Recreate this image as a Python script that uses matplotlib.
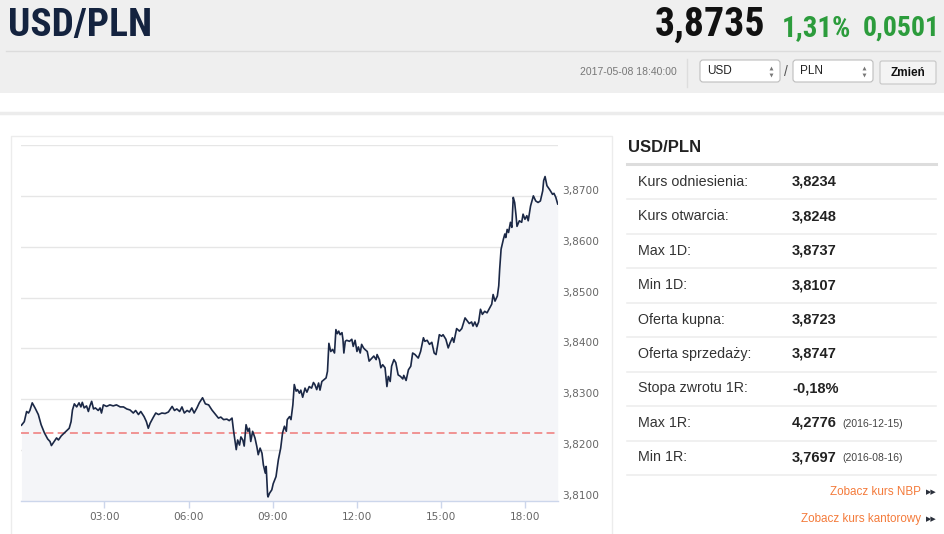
import matplotlib
matplotlib.use('Agg')
import matplotlib.pyplot as plt
import matplotlib.transforms as mtransforms
from matplotlib.patches import Rectangle, FancyBboxPatch
from matplotlib.ticker import FuncFormatter
import matplotlib.font_manager as fm

# ---- data --------------------------------------------------------------
pair = 'USD/PLN'
last_rate = '3,8735'
change_pct = '1,31%'
change_abs = '0,0501'
timestamp = '2017-05-08 18:40:00'
ref_rate = 3.8234

# minutes since midnight
minutes = [
    3, 9, 14, 18, 21, 26, 32, 39, 45, 52, 59, 64, 67, 73, 78, 82, 88, 96, 105, 109,
    112, 116, 121, 126, 130, 133, 137, 142, 146, 149, 153, 157, 161, 167, 171, 174, 178, 185, 192, 199,
    206, 214, 221, 228, 235, 242, 247, 253, 258, 265, 270, 274, 278, 285, 290,
    296, 303, 310, 317, 325, 330, 335, 341, 346, 351, 357, 362, 367, 372, 378, 383, 390, 396, 403, 410,
    417, 424, 429, 435, 442, 447, 453, 456, 460, 462, 465, 469, 472, 476, 479, 483, 487, 490, 493, 497,
    502, 506, 509, 513, 517, 520, 524, 526, 529, 530, 533, 538, 541, 547, 552, 557, 561, 565, 569, 571, 576,
    579, 583, 586, 590, 593, 597, 600, 604, 609, 613, 618, 623, 627, 630, 634, 638, 641, 645, 650, 654,
    657, 660, 664, 668, 672, 675, 678, 681, 684, 688, 690, 692, 695, 698, 704, 709, 712, 716, 720, 723,
    727, 730, 734, 737, 742, 746, 752, 756, 761, 763, 768, 771, 775, 780, 784, 787, 791, 794, 799, 803,
    808, 813, 818, 820, 825, 830, 835,
    839, 844, 851, 856, 862, 865, 870, 875, 880, 885, 889, 892, 896, 901, 904, 910, 915, 919, 924, 927,
    933, 939, 944, 951, 956, 960, 965, 968, 972, 976, 980, 984, 988, 993, 998, 1004, 1008, 1011, 1015, 1020,
    1023, 1025, 1028, 1033, 1036, 1038, 1041, 1044, 1048, 1051, 1054, 1057, 1060, 1062, 1067, 1072, 1075, 1079, 1083, 1086,
    1091, 1097, 1102, 1107, 1112, 1117, 1119, 1122, 1126, 1132, 1138, 1141, 1145, 1149,
]
rates = [
    3.8249, 3.8256, 3.8276, 3.8273, 3.8278, 3.8293, 3.8283, 3.8270, 3.8250, 3.8234,
    3.8222, 3.8217, 3.8209, 3.8217, 3.8224, 3.8220, 3.8228, 3.8235, 3.8243, 3.8256,
    3.8279, 3.8291, 3.8285, 3.8293, 3.8285, 3.8294, 3.8283, 3.8287, 3.8276, 3.8286,
    3.8296, 3.8281, 3.8283, 3.8278, 3.8283, 3.8273, 3.8289, 3.8286, 3.8289, 3.8287,
    3.8289, 3.8285, 3.8285, 3.8281, 3.8279, 3.8273, 3.8278, 3.8270, 3.8276, 3.8266,
    3.8256, 3.8243, 3.8253, 3.8265, 3.8273,
    3.8270, 3.8273, 3.8272, 3.8275, 3.8286, 3.8278, 3.8281, 3.8276, 3.8285, 3.8273,
    3.8278, 3.8275, 3.8283, 3.8273, 3.8283, 3.8293, 3.8303, 3.8291, 3.8289, 3.8279,
    3.8271, 3.8263, 3.8265, 3.8260, 3.8261, 3.8258, 3.8263, 3.8240, 3.8214, 3.8201,
    3.8220, 3.8210, 3.8226, 3.8220, 3.8208, 3.8250, 3.8237, 3.8243, 3.8217, 3.8237,
    3.8224, 3.8207, 3.8191, 3.8204, 3.8194, 3.8171, 3.8155, 3.8168, 3.8112, 3.8108,
    3.8115, 3.8122, 3.8134, 3.8148, 3.8181, 3.8204, 3.8234, 3.8247, 3.8237, 3.8260, 3.8266,
    3.8260, 3.8289, 3.8329, 3.8316, 3.8319, 3.8312, 3.8318, 3.8304, 3.8322, 3.8314,
    3.8325, 3.8322, 3.8333, 3.8329, 3.8319, 3.8332, 3.8318, 3.8335, 3.8339, 3.8342,
    3.8355, 3.8410, 3.8394, 3.8398, 3.8391, 3.8437, 3.8429, 3.8434, 3.8427, 3.8431,
    3.8418, 3.8391, 3.8414, 3.8416, 3.8414, 3.8418, 3.8404, 3.8416, 3.8394, 3.8403,
    3.8391, 3.8408, 3.8401, 3.8398, 3.8394, 3.8375, 3.8381, 3.8385, 3.8378, 3.8388,
    3.8378, 3.8362, 3.8368, 3.8362, 3.8325, 3.8345, 3.8335, 3.8365, 3.8378, 3.8372,
    3.8348, 3.8345, 3.8340, 3.8347, 3.8337, 3.8358, 3.8365,
    3.8391, 3.8388, 3.8381, 3.8394, 3.8421, 3.8414, 3.8416, 3.8408, 3.8412, 3.8391,
    3.8388, 3.8404, 3.8427, 3.8424, 3.8427, 3.8418, 3.8401, 3.8411, 3.8421, 3.8412,
    3.8439, 3.8434, 3.8439, 3.8460, 3.8454, 3.8449, 3.8452, 3.8444, 3.8452, 3.8443,
    3.8452, 3.8477, 3.8467, 3.8473, 3.8470, 3.8480, 3.8487, 3.8506, 3.8493, 3.8503,
    3.8523, 3.8556, 3.8595, 3.8615, 3.8625, 3.8618, 3.8634, 3.8628, 3.8648, 3.8638,
    3.8697, 3.8687, 3.8661, 3.8640, 3.8651, 3.8648, 3.8664, 3.8654, 3.8661, 3.8651,
    3.8680, 3.8700, 3.8690, 3.8687, 3.8690, 3.8710, 3.8730, 3.8738, 3.8720, 3.8712,
    3.8703, 3.8705, 3.8697, 3.8684,
]

y_ticks = [3.81, 3.82, 3.83, 3.84, 3.85, 3.86, 3.87, 3.88]
y_labelled = [3.81, 3.82, 3.83, 3.84, 3.85, 3.86, 3.87]
x_ticks = [180, 360, 540, 720, 900, 1080]

table_labels = ['Kurs odniesienia:', 'Kurs otwarcia:', 'Max 1D:', 'Min 1D:',
                'Oferta kupna:', 'Oferta sprzedaży:', 'Stopa zwrotu 1R:',
                'Max 1R:', 'Min 1R:']
table_values = ['3,8234', '3,8248', '3,8737', '3,8107', '3,8723', '3,8747',
                '-0,18%', '4,2776', '3,7697']
table_notes = ['', '', '', '', '', '', '', '(2016-12-15)', '(2016-08-16)']

links = ['Zobacz kurs NBP', 'Zobacz kurs kantorowy']

SANS = 'Liberation Sans'


def find_condensed_bold():
    # look for any installed condensed / narrow bold face for the headline
    prefs = ['opensanscondensed', 'robotocondensed', 'notosans-condensedbold',
             'notosanscondensed', 'liberationsansnarrow-bold', 'dejavusanscondensed-bold']
    files = [f.fname for f in fm.fontManager.ttflist]
    for p in prefs:
        for fn in files:
            low = fn.lower().replace(' ', '').replace('_', '')
            base = low.rsplit('/', 1)[-1]
            if p in base and 'bold' in base and 'italic' not in base and 'oblique' not in base:
                return fm.FontProperties(fname=fn)
    for f in fm.fontManager.ttflist:
        if f.stretch in ('condensed', 'semi-condensed') and f.weight in ('bold', 700):
            return fm.FontProperties(fname=f.fname)
    return fm.FontProperties(family=SANS, weight='bold')


HEAD = find_condensed_bold()

W, H = 945, 534
fig = plt.figure(figsize=(W / 100, H / 100), dpi=100)
fig.patch.set_facecolor('white')
renderer = fig.canvas.get_renderer()

# overlay in pixel coordinates for the page furniture
ov = fig.add_axes([0, 0, 1, 1], zorder=0)
ov.set_xlim(0, W)
ov.set_ylim(H, 0)
ov.axis('off')


def fit_width(t, target):
    # shrink / grow a text so its rendered width matches the target (px)
    for _ in range(3):
        w = t.get_window_extent(renderer).width
        t.set_fontsize(t.get_fontsize() * target / w)


# header band
ov.add_patch(Rectangle((0, 0), W, 93, fc='#efefef', ec='none'))
ov.plot([6, 940], [51, 51], color='#dcdcdc', lw=1)
ov.plot([0, W], [113, 113], color='#ececec', lw=2.5)

head = [(8, pair, '#14233f', 'left', 144, 27),
        (765, last_rate, '#111111', 'right', 110, 27),
        (851, change_pct, '#2c9c3c', 'right', 69, 19),
        (940, change_abs, '#2c9c3c', 'right', 77, 19)]
for hx, s, col, ha, wpx, fs in head:
    t = ov.text(hx, 36, s, fontproperties=HEAD, color=col, va='baseline', ha=ha)
    t.set_fontsize(fs)
    fit_width(t, wpx)

# second header row
ov.text(677, 72, timestamp, fontsize=7.5, family=SANS, color='#777777',
        ha='right', va='center')
ov.plot([687, 687], [59, 87], color='#dddddd', lw=1)
for bx, cur in [(700, 'USD'), (793, 'PLN')]:
    ov.add_patch(FancyBboxPatch((bx, 60), 80, 22,
                                boxstyle='round,pad=0,rounding_size=3',
                                fc='white', ec='#bdbdbd', lw=0.8))
    ov.text(bx + 7, 71.5, cur, fontsize=8.5, family=SANS, color='#222222',
            ha='left', va='center')
    ov.plot([bx + 71], [67.5], marker='^', ms=2.8, color='#777777', mec='none')
    ov.plot([bx + 71], [75], marker='v', ms=2.8, color='#777777', mec='none')
ov.text(786, 72, '/', fontsize=10, family=SANS, color='#555555',
        ha='center', va='center')
ov.add_patch(FancyBboxPatch((880, 61), 56, 23,
                            boxstyle='round,pad=0,rounding_size=2',
                            fc='#f4f4f4', ec='#c6c6c6', lw=0.8))
ov.text(908, 73, 'Zmień', fontsize=8.5, fontweight='bold', family=SANS,
        color='#111111', ha='center', va='center')

# chart panel border
ov.add_patch(Rectangle((10.5, 135.5), 601, 420, fc='white', ec='#ececec', lw=1))

# ---- right side table ----------------------------------------------------
ov.text(628, 147, pair, fontsize=12, fontweight='bold', family=SANS,
        color='#222222', ha='left', va='center')
ov.plot([627, 936], [163.5, 163.5], color='#dddddd', lw=2.2)
for i, (lab, val, note) in enumerate(zip(table_labels, table_values, table_notes)):
    y = 182 + 34.4 * i
    ov.text(638, y, lab, fontsize=10.3, family=SANS, color='#333333',
            ha='left', va='center')
    ov.text(792, y, val, fontsize=10.5, fontweight='bold', family=SANS,
            color='#222222', ha='left', va='center')
    if note:
        ov.text(842, y + 1, note, fontsize=7.5, family=SANS, color='#444444',
                ha='left', va='center')
    ov.plot([627, 936], [199 + 34.5 * i] * 2, color='#eeeeee', lw=1.2)

for j, link in enumerate(links):
    y = 492 + 27 * j
    ov.text(921, y, link, fontsize=8.4, family=SANS, color='#f47b3b',
            ha='right', va='center')
    ov.text(926, y, '▶▶', fontsize=5, family='DejaVu Sans', color='#2a2f3a',
            ha='left', va='center')

# ---- the chart -----------------------------------------------------------
left, right, top, bottom = 21, 557.7, 145, 501
ax = fig.add_axes([left / W, 1 - bottom / H, (right - left) / W, (bottom - top) / H],
                  zorder=2)
ax.set_facecolor('none')
ax.fill_between(minutes, rates, y_ticks[0], color='#f4f5f8', lw=0, zorder=1)
ax.axhline(ref_rate, color='#ef7878', lw=1.1, ls=(0, (5.2, 2.8)), zorder=2)
ax.plot(minutes, rates, color='#1b2846', lw=1.2, zorder=3)

ax.set_xlim(2, 1149)
ax.set_ylim(y_ticks[0], y_ticks[-1])
ax.set_yticks(y_ticks)
ax.set_yticklabels([])
ax.grid(axis='y', color='#e6e6e6', lw=1, zorder=0)
ax.set_axisbelow(True)
ax.tick_params(axis='y', length=0)

ax.set_xticks(x_ticks)
ax.xaxis.set_major_formatter(FuncFormatter(lambda m, _: f'{int(m) // 60:02d}:{int(m) % 60:02d}'))
ax.tick_params(axis='x', length=5, width=1, color='#ccd6eb', labelcolor='#666666',
               labelsize=7.6, pad=3)
for lbl in ax.get_xticklabels():
    lbl.set_family('DejaVu Sans')

for s in ['left', 'right', 'top']:
    ax.spines[s].set_visible(False)
ax.spines['bottom'].set_color('#ccd6eb')
ax.spines['bottom'].set_linewidth(1)

ytrans = mtransforms.offset_copy(ax.get_yaxis_transform(), fig=fig, x=4.5, y=5, units='dots')
for v in y_labelled:
    ax.text(1.0, v, f'{v:.4f}'.replace('.', ','), transform=ytrans, fontsize=7.6,
            family='DejaVu Sans', color='#666666', ha='left', va='center', clip_on=False)

fig.savefig('out.png', dpi=100)
